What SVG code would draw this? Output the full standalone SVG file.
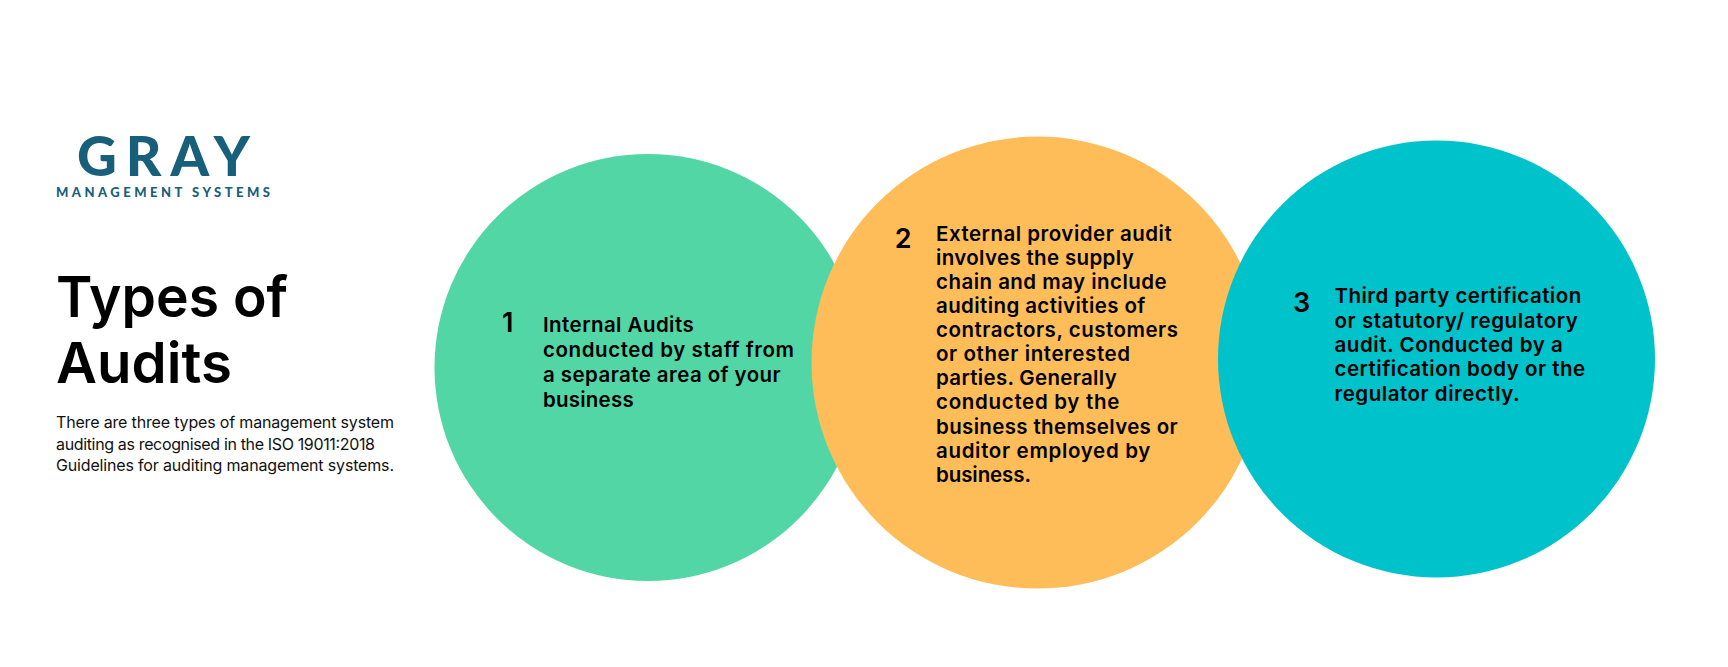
<svg xmlns="http://www.w3.org/2000/svg" width="1728" height="667" viewBox="0 0 1728 667">
<style>
text{font-family:"Inter","Open Sans","Liberation Sans",sans-serif;fill:#000}
.t{font-size:20.5px;font-weight:600}
.n{font-size:27px;font-weight:600}
.h{font-size:57px;font-weight:600}
.b{font-size:16px;font-weight:400;fill:#111}
.l1{font-family:"Lato","Open Sans",sans-serif;font-size:55px;font-weight:900;fill:#186079}
.l2{font-family:"Lato","Open Sans",sans-serif;font-size:13px;font-weight:900;fill:#186079}
</style>
<rect width="1728" height="667" fill="#fff"/>
<g id="logo">
<text class="l1" x="77" y="175.7" textLength="173">GRAY</text>
<text class="l2" x="56" y="197.3" textLength="214">MANAGEMENT SYSTEMS</text>
</g>
<g id="intro">
<text class="h" x="56" y="317" textLength="232" lengthAdjust="spacingAndGlyphs">Types of</text>
<text class="h" x="56" y="383" textLength="176" lengthAdjust="spacingAndGlyphs">Audits</text>
<text class="b" x="56" y="428" textLength="338">There are three types of management system</text>
<text class="b" x="56" y="449.5" textLength="319">auditing as recognised in the ISO 19011:2018</text>
<text class="b" x="56" y="471" textLength="338">Guidelines for auditing management systems.</text>
</g>
<g id="audit-1">
<circle cx="648" cy="367.5" r="213.5" fill="#52D6A6"/>
<text class="n" x="502" y="331.7">1</text>
<text class="t" x="543" y="331.7" textLength="150.7">Internal Audits</text>
<text class="t" x="543" y="356.7" textLength="251">conducted by staff from</text>
<text class="t" x="543" y="381.7" textLength="237.7">a separate area of your</text>
<text class="t" x="543" y="406.7" textLength="90.7">business</text>
</g>
<g id="audit-2">
<circle cx="1037.5" cy="362.6" r="226" fill="#FFBD59"/>
<text class="n" x="894.7" y="248">2</text>
<text class="t" x="936" y="240.7" textLength="235.7">External provider audit</text>
<text class="t" x="936" y="264.8" textLength="197.7">involves the supply</text>
<text class="t" x="936" y="288.9" textLength="230.7">chain and may include</text>
<text class="t" x="936" y="313" textLength="209.3">auditing activities of</text>
<text class="t" x="936" y="337.1" textLength="242">contractors, customers</text>
<text class="t" x="936" y="361.2" textLength="194">or other interested</text>
<text class="t" x="936" y="385.3" textLength="180.7">parties. Generally</text>
<text class="t" x="936" y="409.4" textLength="183.3">conducted by the</text>
<text class="t" x="936" y="433.5" textLength="241.7">business themselves or</text>
<text class="t" x="936" y="457.6" textLength="214.3">auditor employed by</text>
<text class="t" x="936" y="481.7" textLength="95">business.</text>
</g>
<g id="audit-3">
<circle cx="1436.5" cy="359" r="218.5" fill="#00C2CB"/>
<text class="n" x="1293" y="311.7">3</text>
<text class="t" x="1334.5" y="303.3" textLength="246.7">Third party certification</text>
<text class="t" x="1334.5" y="327.6" textLength="243.3">or statutory/ regulatory</text>
<text class="t" x="1334.5" y="351.9" textLength="228.3">audit. Conducted by a</text>
<text class="t" x="1334.5" y="376.2" textLength="250.7">certification body or the</text>
<text class="t" x="1334.5" y="400.5" textLength="185">regulator directly.</text>
</g>
</svg>
